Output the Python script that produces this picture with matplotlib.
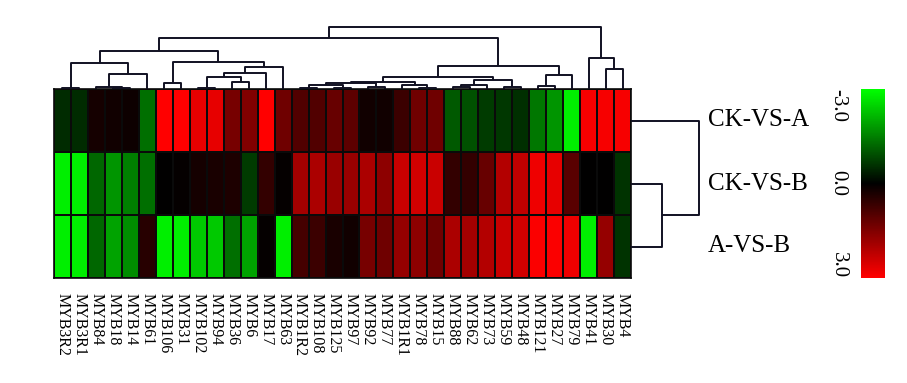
import numpy as np
import matplotlib
matplotlib.use("Agg")
import matplotlib.pyplot as plt
from matplotlib.colors import LinearSegmentedColormap
from matplotlib.transforms import blended_transform_factory

plt.rcParams['font.family'] = ['Liberation Serif', 'DejaVu Serif']

# column order as displayed (after clustering)
genes = ['MYB3R2', 'MYB3R1', 'MYB84', 'MYB18', 'MYB14', 'MYB61', 'MYB106', 'MYB31',
         'MYB102', 'MYB94', 'MYB36', 'MYB6', 'MYB17', 'MYB63', 'MYB1R2', 'MYB108',
         'MYB125', 'MYB97', 'MYB92', 'MYB77', 'MYB1R1', 'MYB78', 'MYB15', 'MYB88',
         'MYB62', 'MYB73', 'MYB59', 'MYB48', 'MYB121', 'MYB27', 'MYB79', 'MYB41',
         'MYB30', 'MYB4']
comparisons = ['CK-VS-A', 'CK-VS-B', 'A-VS-B']

# log2 fold change
ck_vs_a = [-0.5, -0.5, 0.25, 0.2, 0.15, -1.3, 3.0, 3.0, 2.7, 2.7, 1.4, 1.5, 3.0, 1.3,
           0.95, 0.95, 1.2, 1.1, 0.2, 0.2, 0.7, 1.3, 1.3, -1.05, -0.95, -0.7, -0.65,
           -0.55, -1.4, -1.75, -2.8, 2.9, 2.9, 2.9]
ck_vs_b = [-2.8, -2.8, -1.2, -1.75, -1.5, -1.3, 0.0, 0.05, 0.25, 0.3, 0.35, -0.7, 0.6,
           0.05, 1.9, 2.0, 1.8, 1.8, 2.0, 1.65, 2.35, 2.45, 2.35, 0.6, 0.6, 1.2, 2.1,
           2.25, 2.8, 2.7, 1.05, 0.0, 0.0, -0.6]
a_vs_b = [-2.8, -2.8, -1.2, -1.9, -1.65, 0.45, -2.8, -2.8, -2.35, -2.35, -1.3, -1.9,
          0.05, -2.8, 0.8, 0.7, 0.3, 0.2, 1.4, 1.3, 1.75, 1.65, 1.3, 2.0, 1.9, 2.1,
          2.35, 2.45, 2.95, 2.95, 2.8, -2.8, 1.75, -0.6]

# column linkage: (left id, right id, height); leaves are 0..33, merge k gets id 34+k
col_merges = [
    (0, 1, 1.5), (3, 4, 1.5), (2, 35, 2.0), (36, 5, 14.7), (34, 37, 25.7),
    (6, 7, 5.7), (8, 9, 1.3), (10, 11, 6.7), (40, 41, 11.7), (42, 12, 16.3),
    (43, 13, 22.3), (39, 44, 27.3), (38, 45, 38.0),
    (14, 15, 1.3), (16, 17, 1.3), (47, 48, 4.3), (18, 19, 2.0), (49, 50, 6.0),
    (21, 22, 1.5), (20, 52, 4.3), (51, 53, 7.0),
    (23, 24, 2.0), (55, 25, 4.3), (26, 27, 2.0), (56, 57, 8.7), (54, 58, 12.0),
    (28, 29, 3.0), (60, 30, 14.0), (59, 61, 23.0), (46, 62, 51.3),
    (32, 33, 19.7), (31, 64, 30.7), (63, 65, 62.3),
]
# row linkage
row_merges = [(1, 2, 31.0), (0, 3, 68.0)]

data = np.array([ck_vs_a, ck_vs_b, a_vs_b])


def dendro_segments(merges, n):
    pos = {i: i + 0.5 for i in range(n)}
    hgt = {i: 0.0 for i in range(n)}
    segs = []
    for k, (a, b, h) in enumerate(merges):
        segs.append([(pos[a], hgt[a]), (pos[a], h), (pos[b], h), (pos[b], hgt[b])])
        pos[n + k] = (pos[a] + pos[b]) / 2
        hgt[n + k] = h
    return segs


W, H = 907, 383
fig = plt.figure(figsize=(W / 100, H / 100), dpi=100)

def px_axes(x0, y0, x1, y1):
    return fig.add_axes([x0 / W, 1 - y1 / H, (x1 - x0) / W, (y1 - y0) / H])

hm_left, hm_right, hm_top, hm_bot = 54, 631, 89, 278
cmap = LinearSegmentedColormap.from_list('gkr', [(0, 1, 0), (0, 0, 0), (1, 0, 0)])

# heatmap
ax = px_axes(hm_left, hm_top, hm_right, hm_bot)
mesh = ax.pcolormesh(data, cmap=cmap, vmin=-3, vmax=3, edgecolors='#0a0a0a', linewidth=1.1)
ax.set_xlim(0, len(genes))
ax.set_ylim(len(comparisons), 0)
ax.set_yticks([])
ax.set_xticks(np.arange(len(genes)) + 0.5)
ax.set_xticklabels(genes, rotation=270, ha='center', va='top', fontsize=11.5)
ax.tick_params(axis='x', length=0, pad=11, labelcolor='black')
for s in ax.spines.values():
    s.set_color('#0a0a0a')
    s.set_linewidth(1.2)

line_col = '#111122'

# column dendrogram
dax = px_axes(hm_left, 26.7, hm_right, hm_top)
for seg in dendro_segments(col_merges, len(genes)):
    xs, ys = zip(*seg)
    dax.plot(xs, ys, color=line_col, lw=1.4, clip_on=False, solid_capstyle='butt')
dax.set_xlim(0, len(genes))
dax.set_ylim(0, col_merges[-1][2])
dax.axis('off')

# row dendrogram
rax = px_axes(hm_right, hm_top, hm_right + row_merges[-1][2], hm_bot)
for seg in dendro_segments(row_merges, len(comparisons)):
    ys, xs = zip(*seg)
    rax.plot(xs, ys, color=line_col, lw=1.4, clip_on=False, solid_capstyle='butt')
rax.set_xlim(0, row_merges[-1][2])
rax.set_ylim(len(comparisons), 0)
rax.axis('off')

# row labels
tr = blended_transform_factory(fig.transFigure, ax.transData)
for i, name in enumerate(comparisons):
    fig.text(708 / W, i + 0.5, name, transform=tr, ha='left', va='center',
             fontsize=18, color='black')

# colour bar
cax = px_axes(861, hm_top, 885, hm_bot)
cb = fig.colorbar(mesh, cax=cax)
cb.outline.set_visible(False)
cax.invert_yaxis()
cax.set_yticks([])
bar_x = (838 - 861) / 24
cax.text(bar_x, 1.0, '-3.0', transform=cax.transAxes, rotation=270,
         ha='center', va='top', fontsize=15, color='black')
cax.text(bar_x, 0.5, '0.0', transform=cax.transAxes, rotation=270,
         ha='center', va='center', fontsize=15, color='black')
cax.text(bar_x, 0.0, '3.0', transform=cax.transAxes, rotation=270,
         ha='center', va='bottom', fontsize=15, color='black')

fig.savefig('out.png', dpi=100)
